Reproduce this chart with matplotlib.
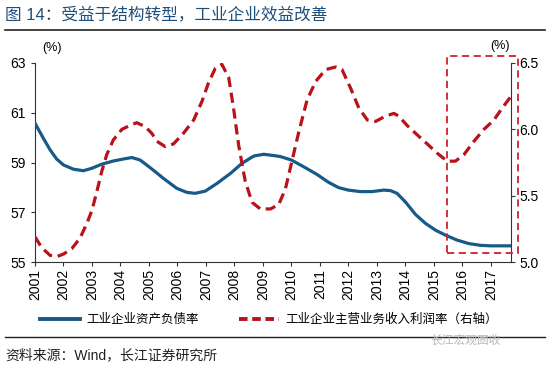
import matplotlib
matplotlib.use("Agg")
import matplotlib.pyplot as plt
from matplotlib.patches import Rectangle
from matplotlib.lines import Line2D

plt.rcParams['font.family'] = ['Liberation Sans', 'Noto Sans CJK SC', 'DejaVu Sans']

# 工业企业资产负债率 (left axis, %)
debt_x = [2001.0, 2001.29, 2001.53, 2001.76, 2002.0, 2002.35, 2002.7, 2003.0, 2003.34, 2003.75,
          2004.1, 2004.4, 2004.69, 2005.0, 2005.22, 2005.51, 2005.98, 2006.33, 2006.62, 2006.98,
          2007.39, 2007.86, 2008.27, 2008.68, 2009.03, 2009.44, 2009.61, 2010.0, 2010.43, 2010.9,
          2011.31, 2011.66, 2012.0, 2012.42, 2012.83, 2013.24, 2013.48, 2013.71, 2014.0, 2014.36,
          2014.71, 2015.06, 2015.41, 2015.82, 2016.23, 2016.64, 2016.99, 2017.46, 2017.7]
debt_y = [60.58, 59.98, 59.51, 59.14, 58.9, 58.73, 58.67, 58.77, 58.93, 59.06,
          59.14, 59.2, 59.1, 58.83, 58.63, 58.36, 57.96, 57.8, 57.76, 57.85,
          58.16, 58.56, 58.97, 59.26, 59.33, 59.27, 59.24, 59.1, 58.83, 58.52,
          58.2, 57.99, 57.89, 57.83, 57.83, 57.89, 57.87, 57.76, 57.42, 56.91,
          56.55, 56.28, 56.08, 55.88, 55.74, 55.67, 55.65, 55.65, 55.65]

# 工业企业主营业务收入利润率 (right axis, %)
margin_x = [2001.0, 2001.23, 2001.53, 2001.76, 2002.0, 2002.29, 2002.58, 2002.82, 2003.0, 2003.17,
            2003.34, 2003.52, 2003.75, 2004.05, 2004.34, 2004.57, 2004.87, 2005.1, 2005.28, 2005.57,
            2005.86, 2006.21, 2006.57, 2006.86, 2007.09, 2007.33, 2007.56, 2007.8, 2007.97, 2008.15,
            2008.38, 2008.62, 2008.91, 2009.27, 2009.44, 2009.55, 2009.79, 2010.02, 2010.26, 2010.55,
            2010.85, 2011.2, 2011.55, 2011.78, 2012.08, 2012.37, 2012.67, 2012.96, 2013.31, 2013.6,
            2013.77, 2014.06, 2014.41, 2014.77, 2015.12, 2015.47, 2015.76, 2016.06, 2016.41, 2016.76,
            2017.11, 2017.4, 2017.68]
margin_y = [5.19, 5.11, 5.05, 5.04, 5.06, 5.10, 5.18, 5.29, 5.39, 5.53,
            5.68, 5.81, 5.92, 6.0, 6.03, 6.05, 6.02, 5.97, 5.91, 5.87,
            5.89, 5.97, 6.07, 6.21, 6.35, 6.46, 6.49, 6.39, 6.16, 5.88,
            5.61, 5.45, 5.40, 5.40, 5.42, 5.43, 5.55, 5.76, 5.98, 6.22,
            6.36, 6.45, 6.47, 6.45, 6.31, 6.16, 6.07, 6.06, 6.10, 6.12,
            6.10, 6.03, 5.96, 5.89, 5.82, 5.76, 5.76, 5.81, 5.91, 6.0,
            6.07, 6.16, 6.24]

years = list(range(2001, 2018))
left_ticks = [55, 57, 59, 61, 63]
right_ticks = [5.0, 5.5, 6.0, 6.5]

blue = '#175A8A'
red = '#B8121B'

fig = plt.figure(figsize=(5.5, 3.65), dpi=100)
ax = fig.add_axes([35 / 550, 1 - 262 / 365, (510.7 - 35) / 550, (262 - 63) / 365])
ax2 = ax.twinx()

ax.plot(debt_x, debt_y, color=blue, lw=2.3, solid_joinstyle='round', zorder=3)
ax2.plot(margin_x, margin_y, color=red, lw=2.3, linestyle=(0, (3.2, 1.8)),
         dash_joinstyle='round')

ax.set_xlim(2001, 2017.7)
ax.set_ylim(55, 63)
ax2.set_ylim(5.0, 6.5)
ax.set_xticks(years)
ax.set_xticklabels([str(y) for y in years], rotation=90, fontsize=10)
ax.set_yticks(left_ticks)
ax.set_yticklabels([str(v) for v in left_ticks], fontsize=10)
ax2.set_yticks(right_ticks)
ax2.set_yticklabels([f'{v:.1f}' for v in right_ticks], fontsize=10)

for a in (ax, ax2):
    a.spines['top'].set_visible(False)
    for s in a.spines.values():
        s.set_color('#333333')
        s.set_linewidth(0.8)
    a.tick_params(colors='#333333', length=3, width=0.8, labelcolor='black')
ax.spines['right'].set_visible(False)
ax2.spines['left'].set_visible(False)
ax2.spines['bottom'].set_visible(False)
ax.tick_params(axis='x', pad=2)

ax.text(0.015, 1.06, '(%)', transform=ax.transAxes, fontsize=9, ha='left')
ax2.text(0.958, 1.07, '(%)', transform=ax2.transAxes, fontsize=9, ha='left')

# highlight box around the last years
box = Rectangle((2015.45, 5.07), 2.49, 1.483, fill=False, edgecolor='#D0202A',
                lw=1.3, linestyle=(0, (4, 2.5)), clip_on=False, zorder=5)
ax2.add_patch(box)

# title and rules
fig.text(5 / 550, 1 - 14 / 365, '图 14：受益于结构转型，工业企业效益改善', fontsize=12,
         color='#1F4E7A', va='center', ha='left')
fig.add_artist(Line2D([5 / 550, 545 / 550], [1 - 30 / 365] * 2, color='#222222', lw=1.2))
fig.add_artist(Line2D([5 / 550, 545 / 550], [1 - 337 / 365] * 2, color='#222222', lw=1.0))

# legend
handles = [Line2D([], [], color=blue, lw=2.8),
           Line2D([], [], color=red, lw=2.8, linestyle=(0, (2.2, 1.2)))]
fig.legend(handles, ['工业企业资产负债率', '工业企业主营业务收入利润率（右轴）'],
           loc='center left', bbox_to_anchor=(40 / 550, 1 - 320 / 365), ncol=2, frameon=False,
           fontsize=9, handlelength=3.2, columnspacing=3.2, handletextpad=0.5,
           borderaxespad=0, borderpad=0)

fig.text(430 / 550, 1 - 341 / 365, '长江宏观固收', fontsize=8.5, color='#BBBBBB',
         va='center', ha='left')
fig.text(5 / 550, 1 - 355 / 365, '资料来源：Wind，长江证券研究所', fontsize=10,
         color='#222222', va='center', ha='left')

fig.savefig('out.png', dpi=100)
